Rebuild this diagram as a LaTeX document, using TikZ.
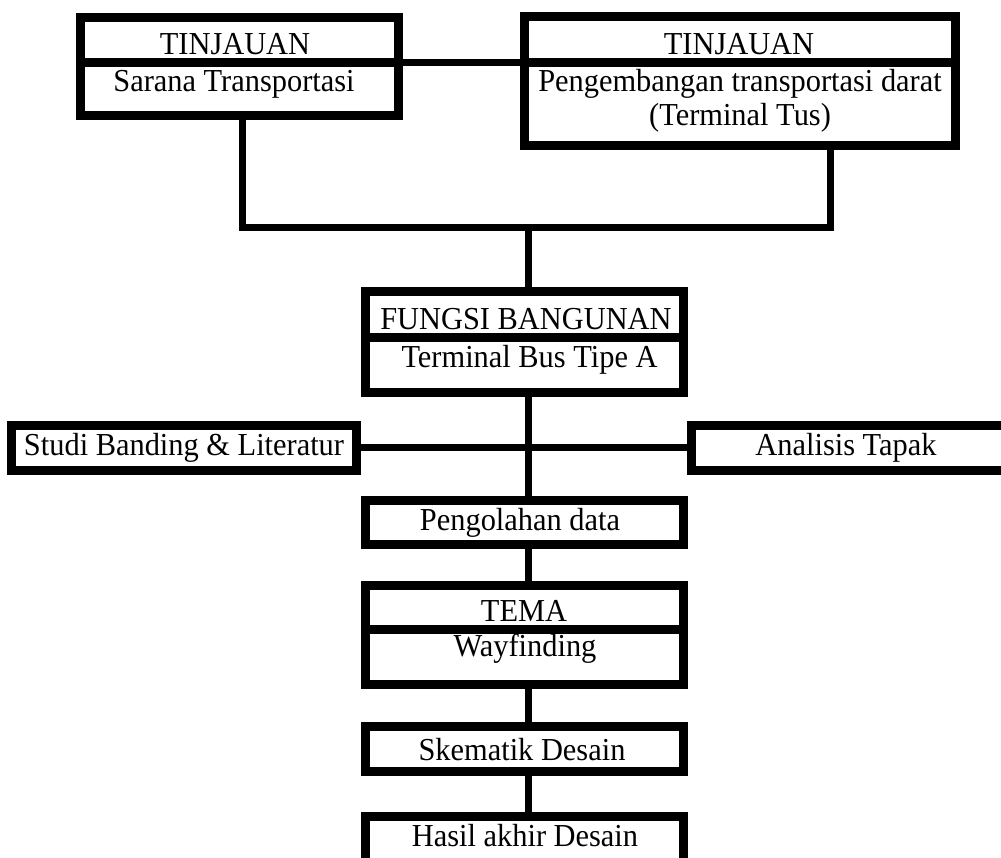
\documentclass[tikz,border=0pt]{standalone}
\usepackage{fontspec}
\setmainfont{Liberation Serif}[FakeStretch=0.95]
\begin{document}
\begin{tikzpicture}[x=1pt,y=-1pt,
  box/.style={draw=black,fill=white,line width=9pt,inner sep=0pt,outer sep=0pt,rectangle},
  lbl/.style={anchor=base,inner sep=0pt,font=\fontsize{32}{38}\selectfont},
  conn/.style={draw=black,line width=7pt,line join=miter}]
\useasboundingbox (0,0) rectangle (1001,858);
\clip (0,0) rectangle (1001,858);
\fill[white] (0,0) rectangle (1001,858);
% box parts
\node[box,minimum width=318pt,minimum height=45pt] (t1) at (239,40.5) {};
\node[box,minimum width=318pt,minimum height=53pt] (b1) at (239,89.5) {};
\node[box,minimum width=431pt,minimum height=46pt] (t2) at (739.5,40) {};
\node[box,minimum width=431pt,minimum height=83pt] (b2) at (739.5,104.5) {};
\node[box,minimum width=318pt,minimum height=46pt] (f1) at (524,315) {};
\node[box,minimum width=318pt,minimum height=54pt] (f2) at (524,365) {};
\node[box,minimum width=345pt,minimum height=45pt] (st) at (183.5,447.5) {};
\node[box,minimum width=319pt,minimum height=45pt] (an) at (850.5,447.5) {};
\node[box,minimum width=318pt,minimum height=44pt] (pd) at (524,522) {};
\node[box,minimum width=318pt,minimum height=44pt] (te1) at (524,607) {};
\node[box,minimum width=318pt,minimum height=55pt] (te2) at (524,656.5) {};
\node[box,minimum width=318pt,minimum height=45pt] (sk) at (524,748.5) {};
\node[box,minimum width=318pt,minimum height=54pt] (ha) at (524,843) {};
% connectors
\coordinate (L) at (242.5,228);
\coordinate (R) at (830,228);
\coordinate (hub) at (528,228);
\draw[conn] (t1.south east) -- (t1.south east -| t2.west);
\draw[conn] (b1.south -| L) -- (L) -- (R) -- (b2.south -| R);
\draw[conn] (hub) -- (hub |- f1.north);
\draw[conn] (f2.south -| hub) -- (pd.north -| hub);
\draw[conn] (st.east) -- (an.west);
\draw[conn] (pd.south -| hub) -- (te1.north -| hub);
\draw[conn] (te2.south -| hub) -- (sk.north -| hub);
\draw[conn] (sk.south -| hub) -- (ha.north -| hub);
% redraw box borders on top of connector ends
\foreach \n in {t1,b1,t2,b2,f1,f2,st,an,pd,te1,te2,sk,ha}{
  \draw[line width=9pt] (\n.south west) rectangle (\n.north east);
}
% texts
\node[lbl] (x1) at (235,55) {TINJAUAN};
\node[lbl] (x2) at (234,92) {Sarana Transportasi};
\node[lbl] (x3) at (739,55) {TINJAUAN};
\node[lbl] (x4) at (740,92) {Pengembangan transportasi darat};
\node[lbl] (x5) at (740,126) {(Terminal Tus)};
\node[lbl] (x6) at (526,330) {FUNGSI BANGUNAN};
\node[lbl] (x7) at (529.5,367) {Terminal Bus Tipe A};
\node[lbl] (x8) at (184,455) {Studi Banding \& Literatur};
\node[lbl] (x9) at (846,455) {Analisis Tapak};
\node[lbl] (x10) at (520,530) {Pengolahan data};
\node[lbl] (x11) at (524,621) {TEMA};
\node[lbl] (x12) at (525,656) {Wayfinding};
\node[lbl] (x13) at (522,760) {Skematik Desain};
\node[lbl] (x14) at (525,846) {Hasil akhir Desain};
\end{tikzpicture}
\end{document}
